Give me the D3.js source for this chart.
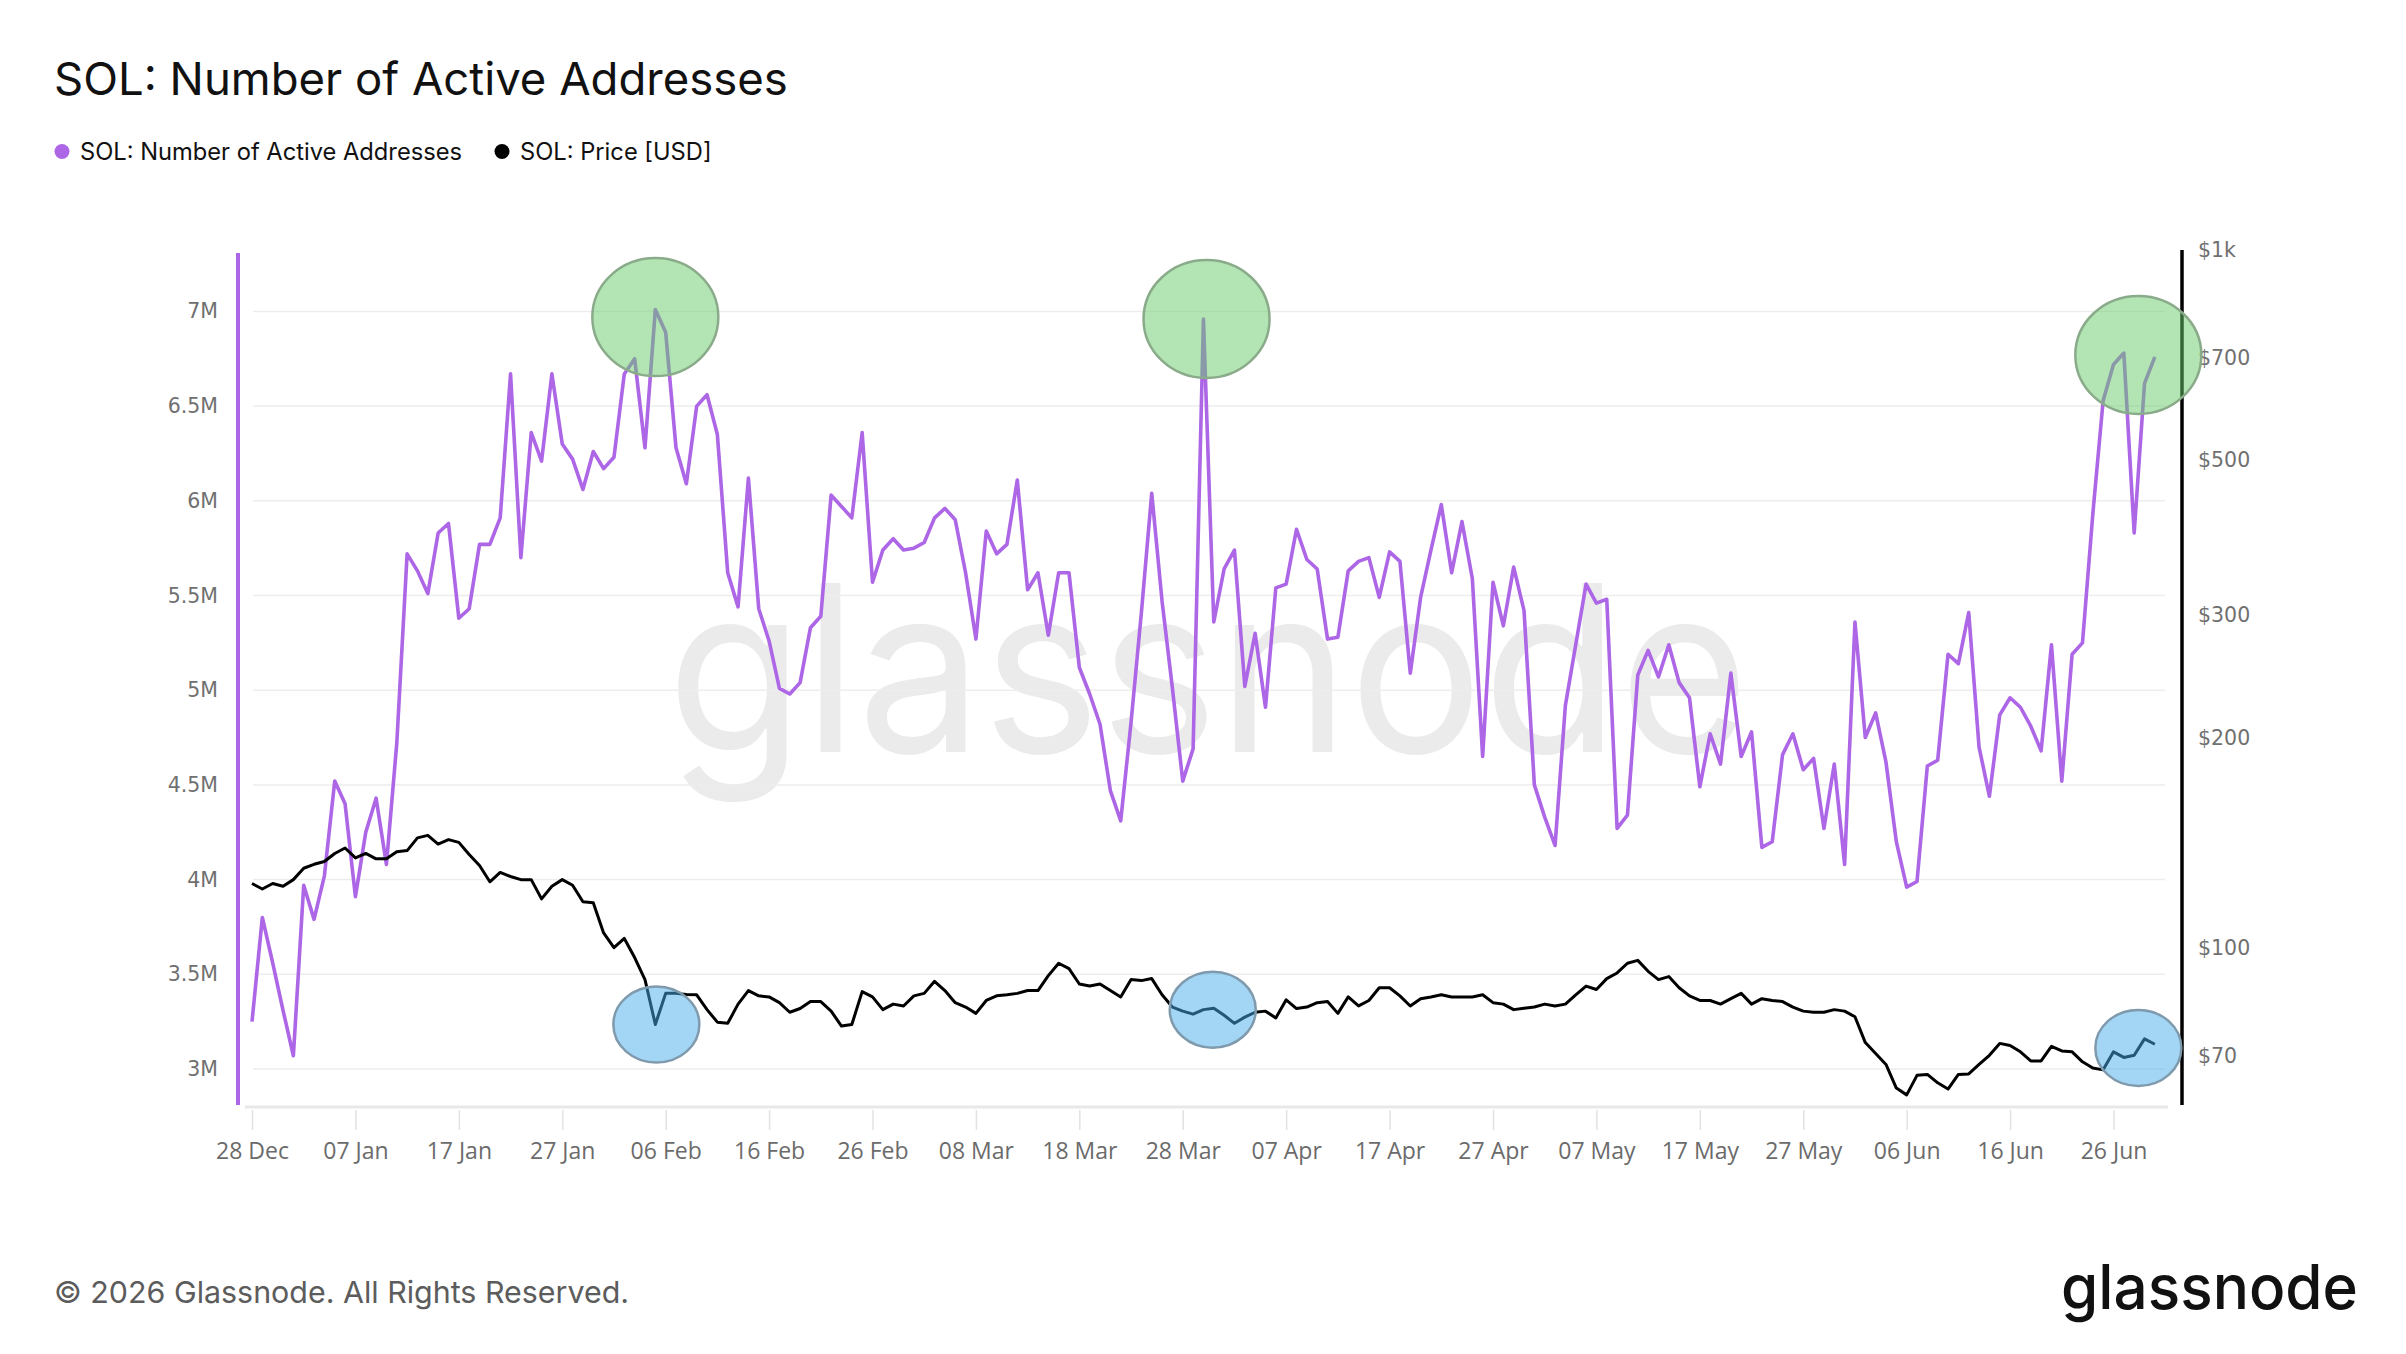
<!DOCTYPE html>
<html>
<head>
<meta charset="utf-8">
<script src="https://cdn.jsdelivr.net/npm/d3@7"></script>
<style>
body { margin: 0; background: #fff; }
</style>
</head>
<body>
<div id="container"></div>
<script>
var WIDTH = 2406,
	HEIGHT = 1354,
	PLOT_TOP = 250,
	PLOT_BOTTOM = 1105,
	LEFT_AXIS_X = 238,
	RIGHT_AXIS_X = 2182;

var PURPLE = '#ad66e6';

// daily series, first point 28 Dec 2024
var startDate = new Date(2024, 11, 28);

// active addresses, millions
var activeAddresses = [
	3.25, 3.80, 3.56, 3.31, 3.07, 3.97, 3.79, 4.02, 4.52, 4.40,
	3.91, 4.25, 4.43, 4.08, 4.72, 5.72, 5.63, 5.51, 5.83, 5.88,
	5.38, 5.43, 5.77, 5.77, 5.91, 6.67, 5.70, 6.36, 6.21, 6.67,
	6.30, 6.22, 6.06, 6.26, 6.17, 6.23, 6.67, 6.75, 6.28, 7.01,
	6.89, 6.28, 6.09, 6.50, 6.56, 6.35, 5.62, 5.44, 6.12, 5.43,
	5.26, 5.01, 4.98, 5.04, 5.33, 5.39, 6.03, 5.97, 5.91, 6.36,
	5.57, 5.74, 5.80, 5.74, 5.75, 5.78, 5.91, 5.96, 5.90, 5.62,
	5.27, 5.84, 5.72, 5.77, 6.11, 5.53, 5.62, 5.29, 5.62, 5.62,
	5.12, 4.98, 4.82, 4.47, 4.31, 4.83, 5.41, 6.04, 5.47, 5.01,
	4.52, 4.69, 6.96, 5.36, 5.64, 5.74, 5.02, 5.30, 4.91, 5.54,
	5.56, 5.85, 5.69, 5.64, 5.27, 5.28, 5.63, 5.68, 5.70, 5.49,
	5.73, 5.68, 5.09, 5.49, 5.74, 5.98, 5.62, 5.89, 5.59, 4.65,
	5.57, 5.34, 5.65, 5.42, 4.50, 4.33, 4.18, 4.92, 5.24, 5.56,
	5.46, 5.48, 4.27, 4.34, 5.08, 5.21, 5.07, 5.24, 5.04, 4.96,
	4.49, 4.77, 4.61, 5.09, 4.65, 4.78, 4.17, 4.20, 4.66, 4.77,
	4.58, 4.64, 4.27, 4.61, 4.08, 5.36, 4.75, 4.88, 4.62, 4.20,
	3.96, 3.99, 4.60, 4.63, 5.19, 5.14, 5.41, 4.70, 4.44, 4.87,
	4.96, 4.91, 4.81, 4.68, 5.24, 4.52, 5.19, 5.25, 5.93, 6.53,
	6.72, 6.78, 5.83, 6.62, 6.76
];

// price in USD, as placed on the right (log) axis
var priceUsd = [
	123.7, 121.5, 123.7, 122.6, 125.3, 130.1, 131.8, 133.0, 136.6, 139.1,
	134.6, 136.6, 134.2, 134.2, 137.4, 137.9, 143.8, 145.0, 140.9, 143.0,
	141.7, 136.1, 131.3, 124.4, 128.3, 126.6, 125.3, 125.3, 117.6, 122.6,
	125.3, 123.0, 116.5, 116.1, 105.1, 100.1, 103.2, 96.9, 90.1, 77.7,
	86.1, 86.1, 85.8, 85.7, 81.6, 78.3, 78.0, 83.1, 86.9, 85.4,
	85.1, 83.5, 80.9, 81.9, 83.8, 83.8, 81.2, 77.3, 77.7, 86.6,
	85.1, 81.6, 83.1, 82.6, 85.4, 86.1, 89.6, 86.9, 83.5, 82.3,
	80.6, 84.1, 85.4, 85.7, 86.1, 86.9, 86.9, 91.3, 95.1, 93.4,
	88.8, 88.2, 88.8, 86.9, 85.1, 90.1, 89.8, 90.4, 85.7, 82.3,
	81.2, 80.4, 81.6, 82.0, 80.1, 78.0, 79.6, 80.9, 81.2, 79.4,
	84.3, 81.9, 82.3, 83.5, 83.8, 80.6, 85.1, 82.6, 84.1, 87.7,
	87.7, 85.4, 82.6, 84.6, 85.1, 85.7, 85.1, 85.1, 85.1, 85.7,
	83.5, 83.1, 81.6, 82.0, 82.3, 83.1, 82.6, 83.1, 85.7, 88.2,
	87.2, 90.4, 92.1, 95.1, 96.0, 92.6, 90.1, 91.0, 87.7, 85.4,
	84.1, 84.1, 83.1, 84.6, 86.1, 83.1, 84.6, 84.1, 83.8, 82.3,
	81.2, 80.9, 80.9, 81.6, 81.2, 79.7, 73.2, 70.6, 68.1, 63.0,
	61.6, 65.7, 65.9, 64.1, 62.8, 65.9, 66.0, 68.1, 70.2, 73.0,
	72.5, 71.0, 68.9, 68.9, 72.3, 71.2, 71.0, 68.7, 67.3, 66.9,
	71.0, 69.7, 70.2, 74.1, 72.8
];

var xTickLabels = ['28 Dec', '07 Jan', '17 Jan', '27 Jan', '06 Feb', '16 Feb', '26 Feb',
	'08 Mar', '18 Mar', '28 Mar', '07 Apr', '17 Apr', '27 Apr', '07 May', '17 May',
	'27 May', '06 Jun', '16 Jun', '26 Jun'];
var leftTicks = [3, 3.5, 4, 4.5, 5, 5.5, 6, 6.5, 7];
var leftTickLabels = ['3M', '3.5M', '4M', '4.5M', '5M', '5.5M', '6M', '6.5M', '7M'];
var rightTicks = [70, 100, 200, 300, 500, 700, 1000];
var rightTickLabels = ['$70', '$100', '$200', '$300', '$500', '$700', '$1k'];

// highlight circles: green on the address peaks, blue on the price dips
var greenCircles = [
	{ day: 39, value: 6.97 },
	{ day: 92.3, value: 6.96 },
	{ day: 182.4, value: 6.77 }
];
var blueCircles = [
	{ day: 39.1, price: 77.7 },
	{ day: 92.9, price: 81.6 },
	{ day: 182.4, price: 71.9 }
];

var dayToDate = function (d) {
	return new Date(startDate.getTime() + d * 86400000);
};

var xScale = d3.scaleTime()
	.domain([startDate, d3.timeDay.offset(startDate, 180)])
	.range([252, 2113.5]);
var yLeft = d3.scaleLinear().domain([3, 7]).range([1069, 311.4]);
var yRight = d3.scaleLog().domain([100, 1000]).range([948, 250]);

var svg = d3.select('#container')
	.append('svg')
	.attr('width', WIDTH)
	.attr('height', HEIGHT)
	.style('display', 'block');

svg.append('rect').attr('width', WIDTH).attr('height', HEIGHT).attr('fill', '#fff');

// title + legend
svg.append('text')
	.attr('x', 54).attr('y', 95)
	.attr('font-family', 'Inter')
	.attr('font-size', 45.5)
	.attr('fill', '#111')
	.text('SOL: Number of Active Addresses');

var legend = [
	{ label: 'SOL: Number of Active Addresses', color: PURPLE, x: 62 },
	{ label: 'SOL: Price [USD]', color: '#000', x: 502 }
];
legend.forEach(function (l) {
	svg.append('circle').attr('cx', l.x).attr('cy', 151.5).attr('r', 7.5).attr('fill', l.color);
	svg.append('text')
		.attr('x', l.x + 18).attr('y', 160)
		.attr('font-family', 'Inter')
		.attr('font-size', 23.7)
		.attr('fill', '#111')
		.text(l.label);
});

// watermark
svg.append('text')
	.attr('x', 667).attr('y', 752)
	.attr('font-family', 'Inter')
	.attr('font-size', 232)
	.attr('textLength', 1082)
	.attr('lengthAdjust', 'spacingAndGlyphs')
	.attr('fill', '#ebebeb')
	.text('glassnode');

// grid
svg.append('g').selectAll('line').data(leftTicks).enter()
	.append('line')
	.attr('x1', 253).attr('x2', 2165)
	.attr('y1', function (d) { return yLeft(d); })
	.attr('y2', function (d) { return yLeft(d); })
	.attr('stroke', '#ededed')
	.attr('stroke-width', 1.5);

svg.append('line')
	.attr('x1', 245).attr('x2', 2168)
	.attr('y1', 1107).attr('y2', 1107)
	.attr('stroke', '#e8e8e8').attr('stroke-width', 3);

// x axis
var tickDates = xTickLabels.map(function (t, i) { return d3.timeDay.offset(startDate, i * 10); });
var xAxis = d3.axisBottom(xScale)
	.tickValues(tickDates)
	.tickSize(20)
	.tickPadding(13)
	.tickFormat(function (d, i) { return xTickLabels[i]; });
var gx = svg.append('g').attr('transform', 'translate(0,1110)').call(xAxis);
gx.select('.domain').remove();
gx.selectAll('.tick line').attr('stroke', '#e2e2e2').attr('stroke-width', 1.5);
gx.selectAll('.tick text')
	.attr('font-family', 'Open Sans')
	.attr('font-size', 23)
	.attr('fill', '#6b6b6b');

// left axis
var gl = svg.append('g').attr('transform', 'translate(218,0)')
	.call(d3.axisLeft(yLeft).tickValues(leftTicks).tickSize(0).tickPadding(0)
		.tickFormat(function (d, i) { return leftTickLabels[i]; }));
gl.select('.domain').remove();
gl.selectAll('.tick text')
	.attr('font-family', 'DejaVu Sans')
	.attr('font-size', 20.5)
	.attr('fill', '#707070');

// right axis
var gr = svg.append('g').attr('transform', 'translate(2198,0)')
	.call(d3.axisRight(yRight).tickValues(rightTicks).tickSize(0).tickPadding(0)
		.tickFormat(function (d, i) { return rightTickLabels[i]; }));
gr.select('.domain').remove();
gr.selectAll('.tick text')
	.attr('font-family', 'DejaVu Sans')
	.attr('font-size', 20.5)
	.attr('fill', '#707070');

// series
var addrLine = d3.line()
	.x(function (d, i) { return xScale(d3.timeDay.offset(startDate, i)); })
	.y(function (d) { return yLeft(d); });
var priceLine = d3.line()
	.x(function (d, i) { return xScale(d3.timeDay.offset(startDate, i)); })
	.y(function (d) { return yRight(d); });

svg.append('path')
	.attr('d', addrLine(activeAddresses))
	.attr('fill', 'none')
	.attr('stroke', PURPLE)
	.attr('stroke-width', 3.6)
	.attr('stroke-linejoin', 'round');

svg.append('path')
	.attr('d', priceLine(priceUsd))
	.attr('fill', 'none')
	.attr('stroke', '#000')
	.attr('stroke-width', 3)
	.attr('stroke-linejoin', 'round');

// axis lines
svg.append('line')
	.attr('x1', LEFT_AXIS_X).attr('x2', LEFT_AXIS_X)
	.attr('y1', 253).attr('y2', PLOT_BOTTOM)
	.attr('stroke', PURPLE).attr('stroke-width', 4);
svg.append('line')
	.attr('x1', RIGHT_AXIS_X).attr('x2', RIGHT_AXIS_X)
	.attr('y1', PLOT_TOP).attr('y2', PLOT_BOTTOM)
	.attr('stroke', '#000').attr('stroke-width', 3.5);

// highlight ellipses
svg.append('g').selectAll('ellipse').data(greenCircles).enter()
	.append('ellipse')
	.attr('cx', function (d) { return xScale(dayToDate(d.day)); })
	.attr('cy', function (d) { return yLeft(d.value); })
	.attr('rx', 63).attr('ry', 59)
	.attr('fill', 'rgba(103,203,105,0.5)')
	.attr('stroke', '#8aab8a')
	.attr('stroke-width', 2.5);

svg.append('g').selectAll('ellipse').data(blueCircles).enter()
	.append('ellipse')
	.attr('cx', function (d) { return xScale(dayToDate(d.day)); })
	.attr('cy', function (d) { return yRight(d.price); })
	.attr('rx', 43).attr('ry', 38)
	.attr('fill', 'rgba(71,173,235,0.5)')
	.attr('stroke', '#7f9aad')
	.attr('stroke-width', 2.5);

// footer
svg.append('text')
	.attr('x', 54).attr('y', 1303)
	.attr('font-family', 'Inter')
	.attr('font-size', 30.4)
	.attr('fill', '#5c5c5c')
	.text('\u00a9 2026 Glassnode. All Rights Reserved.');

svg.append('text')
	.attr('x', 2061).attr('y', 1309)
	.attr('font-family', 'Inter')
	.attr('font-weight', 500)
	.attr('font-size', 62)
	.attr('textLength', 297)
	.attr('lengthAdjust', 'spacingAndGlyphs')
	.attr('fill', '#111')
	.text('glassnode');
</script>
</body>
</html>
